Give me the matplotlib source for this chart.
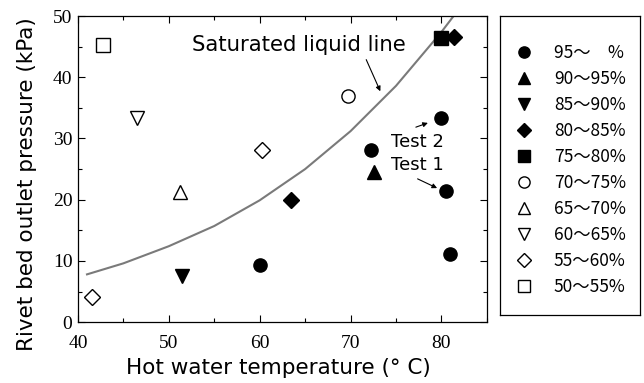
import matplotlib
matplotlib.use("Agg")
import matplotlib.pyplot as plt
from matplotlib.lines import Line2D
from matplotlib.ticker import MultipleLocator

# saturated liquid line
sat_t = [41, 45, 50, 55, 60, 65, 70, 75, 80, 82]
sat_p = [7.8, 9.6, 12.4, 15.7, 19.9, 25.0, 31.2, 38.6, 47.4, 51.3]

# measured points, grouped by void range
labels = ["95\u301c\u3000%", "90\u301c95%", "85\u301c90%", "80\u301c85%", "75\u301c80%",
          "70\u301c75%", "65\u301c70%", "60\u301c65%", "55\u301c60%", "50\u301c55%"]
markers = ["o", "^", "v", "D", "s", "o", "^", "v", "D", "s"]
filled = [True] * 5 + [False] * 5
temps = [
    [60.0, 72.2, 79.9, 80.5, 80.9],
    [72.6],
    [51.4],
    [63.5, 81.4],
    [80.0],
    [69.7],
    [51.2],
    [46.5],
    [41.6, 60.3],
    [42.8],
]
press = [
    [9.3, 28.1, 33.4, 21.4, 11.1],
    [24.5],
    [7.6],
    [20.0, 46.6],
    [46.5],
    [37.0],
    [21.3],
    [33.4],
    [4.1, 28.1],
    [45.3],
]

fig = plt.figure(figsize=(6.44, 3.83), dpi=100)
ax = fig.add_axes([0.121, 0.159, 0.635, 0.799])

ax.plot(sat_t, sat_p, color="#7a7a7a", lw=1.5, zorder=1)

handles = []
for t, p, m, f, lab in zip(temps, press, markers, filled, labels):
    ms = 8 if m == "D" else 9.5
    fc = "black" if f else "white"
    ax.plot(t, p, ls="none", marker=m, ms=ms, mfc=fc, mec="black", mew=1.0, zorder=3)
    handles.append(Line2D([], [], ls="none", marker=m, ms=ms * 0.85, mfc=fc, mec="black",
                          mew=1.0, label=lab))

ax.set_xlim(40, 85)
ax.set_ylim(0, 50)
ax.xaxis.set_major_locator(MultipleLocator(10))
ax.xaxis.set_minor_locator(MultipleLocator(5))
ax.yaxis.set_major_locator(MultipleLocator(10))
ax.yaxis.set_minor_locator(MultipleLocator(5))
ax.tick_params(which="both", direction="in", top=True, right=True, width=0.8)
ax.tick_params(which="major", length=5, labelsize=14)
ax.tick_params(axis="x", which="major", pad=9)
ax.tick_params(axis="y", which="major", pad=4)
ax.tick_params(which="minor", length=3)
for lbl in ax.get_xticklabels() + ax.get_yticklabels():
    lbl.set_family("Liberation Serif")
for s in ax.spines.values():
    s.set_linewidth(0.9)

ax.set_xlabel("Hot water temperature (\u00b0 C)", fontsize=15.5)
ax.set_ylabel("Rivet bed outlet pressure (kPa)", fontsize=15.5)
ax.xaxis.set_label_coords(0.49, -0.118)
ax.yaxis.set_label_coords(-0.1, 0.45)

ax.annotate("Saturated liquid line", xy=(73.4, 37.3), xytext=(52.6, 45.3),
            fontsize=15.3, va="center", ha="left")
ax.annotate("", xy=(73.4, 37.3), xytext=(71.6, 43.3),
            arrowprops=dict(arrowstyle="-|>", color="black", lw=0.8, mutation_scale=7))
ax.text(74.5, 29.4, "Test 2", fontsize=13, va="center")
ax.annotate("", xy=(78.8, 32.7), xytext=(76.9, 31.7),
            arrowprops=dict(arrowstyle="-|>", color="black", lw=0.8, mutation_scale=7))
ax.text(74.4, 25.7, "Test 1", fontsize=13, va="center")
ax.annotate("", xy=(79.8, 21.7), xytext=(77.1, 23.6),
            arrowprops=dict(arrowstyle="-|>", color="black", lw=0.8, mutation_scale=7))

# legend box on the right
lax = fig.add_axes([500 / 644, 1 - 315 / 383, 140 / 644, 299 / 383])
lax.set_xticks([])
lax.set_yticks([])
for s in lax.spines.values():
    s.set_linewidth(0.9)
leg = lax.legend(handles=handles, loc="center", bbox_to_anchor=(0.5, 0.485), frameon=False,
                 labelspacing=0.46, handletextpad=1.1, handlelength=1.2,
                 prop={"family": ["Noto Sans CJK JP", "DejaVu Sans"], "size": 12.5})

fig.savefig("out.png", dpi=100)
